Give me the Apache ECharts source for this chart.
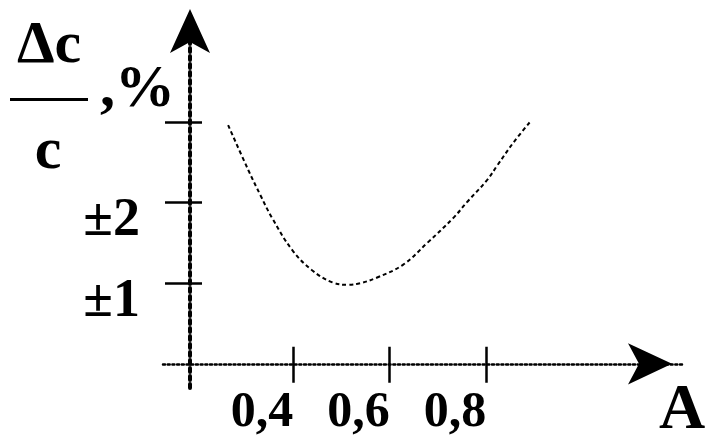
<!DOCTYPE html>
<html>
<head>
<meta charset="utf-8">
<script src="https://cdn.jsdelivr.net/npm/echarts@6/dist/echarts.min.js"></script>
<style>html,body{margin:0;padding:0;background:#fff;}#c{width:705px;height:436px;}</style>
</head>
<body>
<div id="c"></div>
<script>
// ---- data ----
const xValues = [0.265, 0.307, 0.332, 0.356, 0.398, 0.439, 0.481, 0.514, 0.539, 0.574, 0.628, 0.678, 0.732, 0.761, 0.802, 0.823, 0.856, 0.891];
const yValues = [2.96, 2.40, 2.09, 1.81, 1.41, 1.16, 1.01, 0.98, 1.00, 1.07, 1.23, 1.50, 1.81, 2.01, 2.28, 2.46, 2.74, 3.00];
const xTickValues = [0.4, 0.6, 0.8];
const yTickValues = [1, 2, 3];
const yLabelValues = [1, 2];
const xAxisName = 'A';

const FONT = '"Liberation Serif", "Times New Roman", serif';
const X_MIN = 0.13, X_MAX = 1.21, Y_MIN = -0.3, Y_MAX = 4.35;

const chart = echarts.init(document.getElementById('c'), null, {renderer: 'canvas'});
const points = xValues.map((x, i) => [x, yValues[i]]);

const option = {
  backgroundColor: '#fff',
  animation: false,
  grid: {left: 163, right: 21, top: 13, bottom: 48, outerBoundsMode: 'none', containLabel: false},
  xAxis: [{
    type: 'value', min: X_MIN, max: X_MAX, position: 'bottom',
    splitLine: {show: false},
    axisLine: {show: true, onZero: true, symbol: ['none', 'arrow'], symbolSize: [31, 44], symbolOffset: [0, -12],
      lineStyle: {color: '#000', width: 2.5, type: [2, 2.7]}},
    axisTick: {show: true, inside: false, length: 19, customValues: xTickValues, lineStyle: {color: '#000', width: 2.5}},
    axisLabel: {show: true, customValues: xTickValues, margin: 0, color: '#000',
      fontFamily: FONT, fontWeight: 'bold', fontSize: 50, lineHeight: 50, align: 'right', verticalAlign: 'top',
      formatter: v => String(v).replace('.', ',')},
    name: xAxisName, nameLocation: 'end', nameGap: -2,
    nameTextStyle: {color: '#000', fontFamily: FONT, fontWeight: 'bold', fontSize: 64, align: 'center', verticalAlign: 'top', padding: [16, 0, 0, 0]}
  }, {
    type: 'value', min: X_MIN, max: X_MAX, position: 'bottom',
    splitLine: {show: false},
    axisLine: {show: false, onZero: true},
    axisTick: {show: true, inside: true, length: 17, customValues: xTickValues, lineStyle: {color: '#000', width: 2.5}},
    axisLabel: {show: false}
  }],
  yAxis: [{
    type: 'value', min: Y_MIN, max: Y_MAX, position: 'left', offset: -27,
    splitLine: {show: false},
    axisLine: {show: true, onZero: false, symbol: ['none', 'arrow'], symbolSize: [30, 44], symbolOffset: [0, 4],
      lineStyle: {color: '#000', width: 4, type: 'dotted'}},
    axisTick: {show: true, inside: false, length: 25, customValues: yTickValues, lineStyle: {color: '#000', width: 2.5}},
    axisLabel: {show: true, customValues: yLabelValues, margin: 50, color: '#000',
      fontFamily: FONT, fontWeight: 'bold', fontSize: 54, lineHeight: 38, verticalAlign: 'top',
      formatter: v => '\u00b1' + v}
  }, {
    type: 'value', min: Y_MIN, max: Y_MAX, position: 'left', offset: -27,
    splitLine: {show: false},
    axisLine: {show: false, onZero: false},
    axisTick: {show: true, inside: true, length: 12, customValues: yTickValues, lineStyle: {color: '#000', width: 2.5}},
    axisLabel: {show: false}
  }],
  graphic: [
    {type: 'text', style: {text: '\u0394c', x: 49, y: 46, align: 'center', verticalAlign: 'middle', font: 'bold 60px ' + FONT, fill: '#000'}},
    {type: 'rect', shape: {x: 10, y: 98, width: 78, height: 3}, style: {fill: '#000'}},
    {type: 'text', style: {text: 'c', x: 48, y: 152, align: 'center', verticalAlign: 'middle', font: 'bold 60px ' + FONT, fill: '#000'}},
    {type: 'text', style: {text: ',%', x: 100, y: 90, align: 'left', verticalAlign: 'middle', font: 'bold 60px ' + FONT, fill: '#000'}}
  ],
  series: [{
    type: 'line', data: points, xAxisIndex: 0, yAxisIndex: 0,
    smooth: 0.4, showSymbol: false, symbol: 'none',
    lineStyle: {color: '#000', width: 2, type: [4, 3]}
  }]
};
chart.setOption(option);
</script>
</body>
</html>
